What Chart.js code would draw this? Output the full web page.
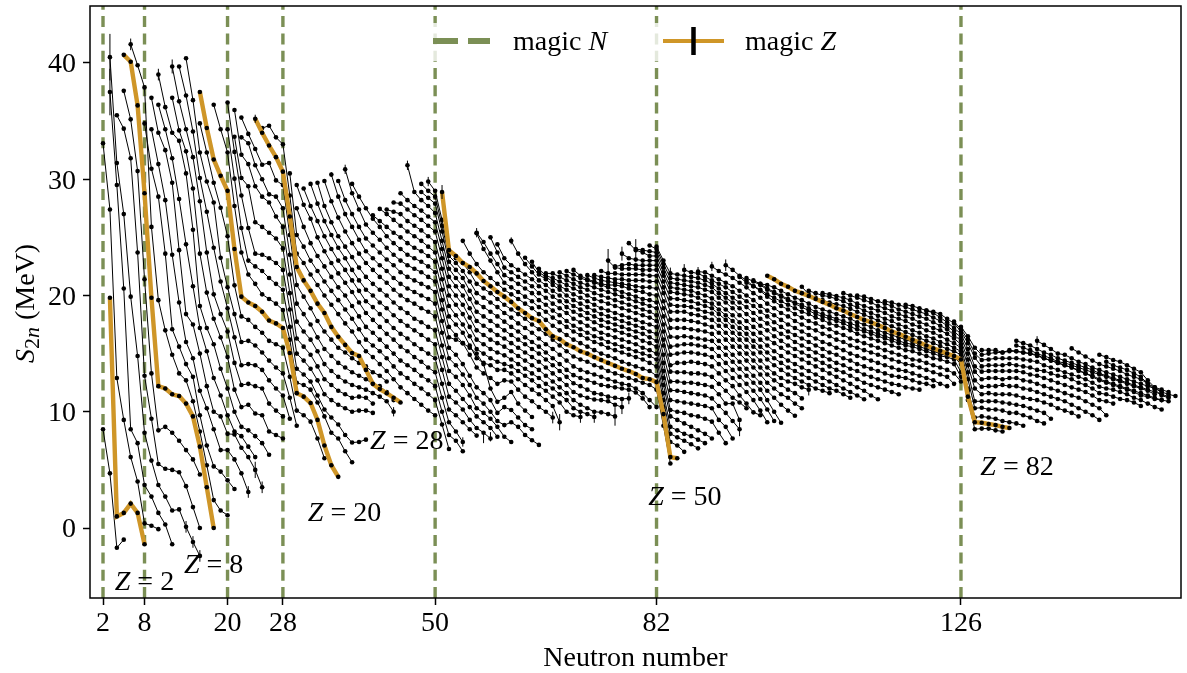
<!DOCTYPE html>
<html>
<head>
<meta charset="utf-8">
<title>S2n chains</title>
<script src="https://cdn.jsdelivr.net/npm/chart.js@4"></script>
<style>
html, body { margin: 0; padding: 0; background: #fff; }
canvas { display: block; }
</style>
</head>
<body>
<canvas id="chart" width="1187" height="673"></canvas>
<script>
const magicN = [2, 8, 20, 28, 50, 82, 126];
const magicZ = [2, 8, 20, 28, 50, 82];
const yTicks = [0, 10, 20, 30, 40];

// first neutron number of each isotopic chain, Z = 1 onwards
const startN = [2,3,2,3,3,4,5,5,6,8,9,9,10,10,12,12,13,14,16,16,18,20,20,21,21,22,22,24,25,29,30,30,31,32,33,34,35,36,37,38,41,42,43,44,45,46,48,48,49,51,54,56,56,58,59,61,63,64,65,66,68,69,70,72,73,74,75,76,77,78,79,81,82,86,88,90,92,94,95,96,97,98,103,104,106,109,111,115,118,121,125,126,129,134,134,137,142,146,147];

// S2n in MeV, one value per neutron number
const z01 = [8.5,4.7,-1.7,-1.0];
const z02 = [19.8,1.0,1.3,2.1,1.3,-1.4];
const z03 = [33.1,27.4,12.9,9.3,6.1,4.0,0.4,0.2,-0.1];
const z04 = [37.5,29.5,20.6,8.5,7.3,3.7,2.7,1.3,0.3,-1.4];
const z05 = [40.5,31.4,27.0,19.9,14.8,8.2,5.8,3.7,2.7,1.5,1.6,0.1,-1.2,-2.4];
const z06 = [35.5,34.35,31.8,23.7,13.1,9.4,5.5,5.1,5.0,4.8,3.6,1.8,0.0];
const z07 = [37.6,35.15,30.7,21.4,13.3,8.4,8.7,8.2,7.5,6.7,5.9,4.6];
const z08 = [40.7,40.1,36.35,28.8,19.8,12.2,12.0,11.5,11.35,10.7,9.6,7.0,3.5,0.0];
const z09 = [41.6,39.8,37.9,25.9,19.6,17.0,14.9,13.3,12.7,10.9,8.3,5.4,2.4,1.5,1.1];
const z10 = [34.8,30.9,28.5,23.6,17.1,15.6,14.1,13.0,9.7,7.1,5.3,4.85,4.1,3.35];
const z11 = [34.3,31.3,28.2,23.5,19.4,16.0,14.6,11.8,10.3,8.5,6.7,6.7,5.9,4.7,3.1];
const z12 = [37.0,34.0,32.5,29.7,23.9,18.4,17.5,15.0,12.2,10.0,9.6,8.1,8.05,6.9,6.1,5.0,3.5];
const z13 = [36.4,34.3,31.8,28.3,24.4,20.8,17.2,15.2,12.9,11.4,9.7,8.3,7.9,7.0,6.1];
const z14 = [39.0,36.2,34.0,33.3,30.5,25.65,19.1,17.2,15.8,13.7,12.0,10.0,8.7,8.4,7.9,7.3,6.3];
const z15 = [37.0,34.2,32.4,29.2,23.6,20.25,18.0,16.4,14.7,11.9,10.4,10.6,9.85,9.7,8.3,8.0,7.7];
const z16 = [39.7,36.7,34.3,31.9,28.1,23.7,20.1,18.4,16.9,14.2,12.3,12.4,12.2,12.0,10.7,10.1,9.6];
const z17 = [39.7,37.2,34.1,30.1,27.2,24.1,21.2,18.9,16.4,14.0,14.1,14.0,13.6,12.7,12.0,11.4,9.4];
const z18 = [40.4,36.8,32.3,29.8,28.0,23.25,20.7,18.4,16.0,16.1,15.7,15.1,14.4,13.8,13.3,11.2,8.8];
const z19 = [34.8,32.3,29.7,27.55,25.1,20.87,18.2,17.9,17.3,16.8,16.1,15.8,15.5,13.0,10.1,9.7,9.15,7.7,6.0];
const z20 = [37.5,34.4,31.7,30.3,29.0,24.0,19.9,19.4,19.1,18.6,17.85,17.6,17.2,15.05,11.6,11.3,10.75,9.3,7.1,5.4,4.4];
const z21 = [36.4,34.3,32.3,27.7,23.7,21.8,21.0,20.1,19.7,19.3,18.75,16.2,12.5,12.3,11.9,10.8,9.6,8.2,7.7,6.6,5.65];
const z22 = [34.3,30.05,25.8,23.0,22.5,22.1,21.5,21.0,20.5,17.3,13.7,13.2,12.6,11.4,10.2,9.5,8.9,8.0,7.35,7.4,7.6];
const z23 = [36.6,32.35,28.6,25.8,23.6,23.5,23.2,22.8,22.2,18.8,15.0,14.4,13.7,12.7,11.5,11.0,10.6,10.3,10.0,10.1,10.1,9.9];
const z24 = [33.65,30.1,29.4,26.3,25.9,25.4,24.9,24.05,20.2,16.3,15.6,14.9,13.9,12.8,12.3,11.8,11.5,11.2,11.3,11.2,10.7];
const z25 = [35.95,32.1,31.3,29.4,28.5,28.0,26.8,25.9,21.8,17.75,16.9,16.2,15.2,14.1,13.5,13.0,12.6,12.3,12.1,11.9,11.6,11.3,10.9,10.0];
const z26 = [33.6,33.1,31.2,30.0,28.7,28.5,27.5,23.5,19.3,18.4,17.5,16.4,15.4,14.8,14.2,13.8,13.4,13.1,12.8,12.4,12.2,11.7,11.0];
const z27 = [35.3,33.9,32.6,31.25,31.4,29.9,29.5,25.2,20.9,19.9,18.9,17.8,16.9,16.2,15.5,15.1,14.6,14.2,13.9,13.4,13.1,12.6];
const z28 = [35.2,34.0,32.9,31.9,30.65,26.8,22.45,21.3,20.4,19.3,18.5,17.3,16.45,15.75,15.05,14.8,13.6,12.4,11.95,11.6,11.2,10.8];
const z29 = [34.4,34.6,33.6,33.0,28.6,23.6,22.8,21.8,20.9,20.0,19.2,18.4,17.6,16.9,16.0,15.2,14.7,14.1,13.5,12.8,12.1,11.6,11.1,10.6,10.1,9.7];
const z30 = [30.5,25.2,24.2,23.0,22.1,21.2,20.4,19.6,18.8,18.0,17.1,16.2,15.7,15.2,14.6,13.9,13.3,12.9,12.4,12.0,11.5,11.0,8.9,6.8];
const z31 = [27.5,25.9,24.5,23.4,22.5,21.6,20.7,20.0,19.1,18.2,17.3,16.8,16.2,15.6,15.0,14.4,14.0,13.6,13.1,12.7,12.2,10.0,8.0,7.5,6.6];
const z32 = [29.5,27.8,26.6,25.0,23.8,22.8,21.9,21.1,20.3,19.4,18.5,17.9,17.3,16.7,16.2,15.6,15.2,14.7,14.3,13.8,13.4,11.2,9.1,8.3,7.4];
const z33 = [29.2,27.7,26.4,25.1,24.0,23.0,22.2,21.3,20.4,19.5,19.0,18.4,17.8,17.2,16.7,16.3,15.8,15.4,15.0,14.6,12.4,10.2,9.7,9.1,8.5,7.95];
const z34 = [29.6,27.9,26.4,25.2,24.1,23.2,22.2,21.3,20.5,20.0,19.4,18.9,18.3,17.8,17.4,17.0,16.6,16.2,15.8,13.6,11.3,10.8,10.2,9.3,8.6,8.2,7.7];
const z35 = [29.7,27.7,26.3,25.1,24.2,23.3,22.4,21.6,21.0,20.5,20.0,19.4,18.9,18.5,18.0,17.7,17.3,17.0,14.7,12.4,11.8,11.1,10.4,9.6,9.1,8.6,7.85];
const z36 = [29.85,28.1,26.7,25.5,24.5,23.6,22.8,22.2,21.6,21.1,20.5,20.0,19.6,19.3,18.9,18.6,18.2,15.7,13.5,13.0,12.3,11.4,10.3,9.9,9.4,8.7,7.85,7.4];
const z37 = [30.4,28.5,27.0,25.9,24.8,23.8,23.2,22.6,22.1,21.5,21.0,20.6,20.3,20.0,19.7,19.3,16.8,14.6,14.0,13.2,12.3,11.2,10.7,10.0,9.2,8.85,9.1,8.7,8.0,7.55,7.15];
const z38 = [29.85,28.2,27.0,25.9,24.9,24.3,23.7,23.1,22.6,22.0,21.6,21.3,21.0,20.7,20.3,17.8,15.5,14.9,14.1,13.1,12.1,11.6,11.0,9.9,10.4,10.15,9.5,8.85,8.5];
const z39 = [30.85,28.8,27.4,26.1,25.4,24.8,24.1,23.5,23.0,22.6,22.3,22.0,21.6,21.2,18.8,16.4,16.2,15.9,15.5,15.0,14.1,12.0,10.85,11.2,11.7,10.7,10.1,9.55];
const z40 = [29.6,28.5,27.5,26.6,25.9,25.1,24.5,24.0,23.5,23.2,22.9,22.5,22.0,19.6,17.3,16.6,15.9,14.9,13.8,13.3,12.9,12.4,12.7,12.6,11.9,11.3,10.9,10.4,10.0,9.5];
const z41 = [26.9,26.4,25.9,25.4,25.0,24.5,24.1,23.8,23.4,22.9,20.5,18.2,17.5,16.8,15.7,14.6,14.2,14.0,13.6,13.6,13.3,12.8,12.3,11.9,11.5,11.0,10.5,9.1];
const z42 = [27.45,27.0,26.5,26.0,25.5,25.1,24.7,24.2,23.7,21.4,19.1,18.3,17.5,16.5,15.4,15.0,14.6,14.3,14.1,13.9,13.5,13.1,12.7,12.2,11.8,11.3,10.8,10.0,9.7,9.55];
const z43 = [27.4,27.2,27.0,26.4,26.0,25.6,25.1,24.6,22.3,20.0,19.2,18.4,17.3,16.2,15.8,15.4,15.1,14.85,14.5,14.1,13.7,13.3,12.9,12.4,12.0,11.5,11.0,10.3,10.0,9.8,9.55];
const z44 = [28.0,27.9,27.4,26.9,26.5,26.0,25.5,23.2,20.8,20.0,19.2,18.1,17.0,16.6,16.2,15.9,15.6,15.2,14.8,14.4,14.0,13.6,13.1,12.6,12.1,11.6,11.0,10.6,10.3,10.0,9.95,9.8,9.6];
const z45 = [28.8,28.2,27.7,27.3,26.8,26.3,24.0,21.6,20.8,20.0,18.9,17.8,17.4,17.0,16.6,16.3,15.9,15.5,15.1,14.7,14.3,13.8,13.3,12.8,12.3,11.7,11.4,11.2,11.05,11.0,10.9,10.6,10.4];
const z46 = [31.2,28.9,28.2,27.7,27.1,24.7,22.3,21.5,20.8,19.7,18.6,18.2,17.8,17.4,17.0,16.6,16.2,15.8,15.4,15.0,14.5,14.0,13.5,13.0,12.45,12.2,11.9,11.6,11.5,11.3,11.2,11.1,11.15];
const z47 = [28.9,28.4,27.9,25.5,22.9,22.2,21.5,20.4,19.4,19.0,18.6,18.2,17.75,17.3,16.9,16.4,16.0,15.6,15.1,14.6,14.1,13.6,13.15,12.9,12.7,12.5,12.3,12.2,12.1,12.0,11.9,11.65,11.15,10.4];
const z48 = [29.6,29.0,28.5,26.0,23.4,22.8,22.1,21.2,20.2,19.8,19.4,19.0,18.5,18.1,17.6,17.2,16.8,16.3,15.8,15.4,14.9,14.4,13.9,13.6,13.4,13.2,13.0,12.8,12.6,12.4,12.3,12.0,11.6,11.0,10.4];
const z49 = [29.8,29.0,26.5,23.7,23.2,22.8,22.0,21.0,20.6,20.2,19.7,19.2,18.8,18.4,18.0,17.5,17.1,16.7,16.2,15.7,15.2,14.75,14.5,14.3,14.0,13.8,13.5,13.3,13.1,12.9,12.7,12.5,12.3,11.9,8.8,5.55];
const z50 = [28.9,23.9,23.4,22.8,22.45,21.9,21.25,20.8,20.3,19.9,19.45,18.9,18.5,18.05,17.8,17.1,16.5,16.25,15.8,15.55,15.2,15.0,14.7,14.45,14.2,13.95,13.7,13.5,13.25,12.9,12.8,12.55,9.8,6.1,6.0];
const z51 = [24.7,23.6,22.7,22.0,21.5,21.0,20.5,20.1,19.7,19.3,18.9,18.4,17.9,17.4,17.0,16.6,16.2,15.9,15.6,15.3,15.0,14.8,14.6,14.3,14.1,13.9,13.7,13.5,13.1,10.4,7.4,7.1,6.55];
const z52 = [25.35,24.0,23.0,22.0,21.1,20.7,20.3,19.9,19.5,19.0,18.6,18.1,17.7,17.3,16.9,16.6,16.3,16.0,15.8,15.5,15.3,15.1,14.9,14.7,14.5,14.2,13.9,11.0,8.1,7.8,7.5,7.2,6.85];
const z53 = [25.4,24.6,23.6,22.7,21.75,21.4,21.0,20.6,20.2,19.6,19.2,18.7,18.3,17.8,17.4,17.1,16.8,16.5,16.3,16.0,15.8,15.6,15.4,15.2,15.0,14.8,14.5,11.6,8.7,8.4,8.1,7.9,7.6,7.3];
const z54 = [25.0,23.7,22.4,22.0,21.6,21.2,20.8,20.2,19.8,19.3,18.9,18.5,18.0,17.7,17.4,17.1,16.8,16.6,16.4,16.2,16.0,15.8,15.5,15.3,15.0,12.3,9.6,9.3,9.0,8.7,8.4,8.1,7.7];
const z55 = [24.4,23.2,22.6,22.2,21.8,21.4,20.8,20.4,19.9,19.5,19.0,18.6,18.3,18.0,17.7,17.4,17.2,17.0,16.8,16.6,16.4,16.1,15.9,15.6,12.9,10.15,10.0,9.9,9.7,9.6,9.4,9.15,8.2,7.3];
const z56 = [24.7,23.6,22.7,22.0,21.3,20.9,20.4,20.0,19.5,19.1,18.8,18.5,18.2,17.9,17.7,17.5,17.3,17.1,16.9,16.7,16.4,16.1,13.5,11.0,10.9,10.8,10.7,10.6,10.5,10.3,9.3,8.7,7.7];
const z57 = [23.25,22.5,21.8,21.4,20.9,20.5,20.0,19.6,19.3,19.0,18.7,18.4,18.2,18.0,17.8,17.6,17.4,17.2,16.9,16.7,14.2,11.85,11.8,11.7,11.6,11.5,11.4,11.15,10.5,9.9,9.2,8.5];
const z58 = [22.9,22.0,21.6,21.2,20.8,20.5,20.1,19.8,19.5,19.2,18.9,18.7,18.5,18.3,18.1,17.9,17.7,17.5,17.3,14.9,12.6,12.6,12.5,12.5,12.4,12.3,12.15,11.5,10.7,10.7,9.3];
const z59 = [22.3,21.7,21.5,21.2,20.9,20.6,20.3,20.0,19.7,19.5,19.3,19.1,18.9,18.7,18.5,18.3,18.1,17.8,15.7,13.45,13.4,13.4,13.3,13.3,13.2,13.0,12.4,11.8,11.2,10.8,10.3];
const z60 = [21.9,21.9,21.6,21.3,21.0,20.7,20.5,20.2,20.0,19.8,19.6,19.4,19.2,19.0,18.8,18.6,18.3,16.2,14.0,14.2,14.2,14.3,14.2,14.1,13.9,13.3,12.7,12.2,11.4,10.7,9.95,9.7];
const z61 = [22.0,21.7,21.4,21.1,20.9,20.7,20.5,20.3,20.1,19.9,19.7,19.5,19.3,19.1,18.9,16.9,14.9,15.0,15.1,15.1,15.0,14.9,14.7,14.1,13.5,12.9,12.3,11.7,11.0,10.1,9.1];
const z62 = [22.1,21.8,21.5,21.3,21.1,20.9,20.7,20.5,20.3,20.1,19.9,19.7,19.6,19.4,17.5,15.6,15.7,15.8,15.8,15.7,15.6,15.4,14.8,14.2,13.6,13.0,12.4,11.8,11.1,10.2,9.2];
const z63 = [22.2,21.7,21.4,21.2,21.0,20.9,20.9,20.8,20.6,20.4,20.3,20.1,20.0,18.2,16.45,16.4,16.5,16.4,16.3,16.2,16.1,15.5,14.9,14.3,13.7,13.1,12.5,11.9,11.0,10.0,9.05];
const z64 = [21.75,21.5,21.3,21.2,21.1,21.0,20.9,20.8,20.7,20.7,20.6,18.9,17.2,17.2,17.2,17.1,17.0,16.9,16.7,16.1,15.5,14.9,14.3,13.7,13.1,12.5,11.8,11.2,10.6,10.1,9.65];
const z65 = [21.75,21.6,21.5,21.4,21.4,21.3,21.3,21.3,21.2,21.2,19.5,17.9,17.9,17.9,17.8,17.7,17.5,17.3,16.8,16.2,15.6,15.0,14.4,13.8,13.2,12.5,12.0,11.5,11.2,10.7,10.3];
const z66 = [22.1,21.9,21.9,21.8,21.8,21.8,21.8,21.7,21.7,20.2,18.6,18.6,18.6,18.4,18.3,18.1,17.9,17.4,16.8,16.2,15.6,15.0,14.4,13.8,13.2,12.7,12.3,11.9,11.6,11.15];
const z67 = [23.0,22.4,22.3,22.3,22.3,22.2,22.2,22.2,20.7,19.2,19.1,19.1,19.0,18.8,18.6,18.45,17.9,17.4,16.8,16.2,15.6,15.0,14.4,13.8,13.3,12.9,12.6,12.4,12.1,11.9];
const z68 = [22.5,22.6,22.7,22.6,22.6,22.6,22.6,21.2,19.75,19.7,19.6,19.5,19.3,19.1,18.9,18.4,17.9,17.3,16.7,16.2,15.6,15.1,14.5,14.0,13.6,13.2,12.9,12.6,12.3,12.0,11.8,11.6];
const z69 = [23.6,23.2,23.1,23.0,23.0,23.0,21.7,20.3,20.2,20.1,20.0,19.8,19.5,19.3,18.8,18.3,17.8,17.2,16.7,16.1,15.6,15.1,14.6,14.2,13.8,13.5,13.2,12.9,12.6,12.3,12.0,11.8,11.5,11.2];
const z70 = [24.5,23.9,23.7,23.4,23.4,22.0,20.7,20.6,20.5,20.4,20.2,20.0,19.75,19.3,18.8,18.3,17.7,17.2,16.7,16.2,15.7,15.2,14.8,14.4,14.1,13.8,13.5,13.2,12.9,12.6,12.3,12.0,11.7,11.4,11.07];
const z71 = [24.0,23.9,23.8,23.7,22.4,21.1,21.0,20.9,20.8,20.7,20.5,20.3,19.8,19.4,18.9,18.3,17.8,17.3,16.8,16.3,15.9,15.5,15.1,14.8,14.5,14.2,13.9,13.6,13.3,13.0,12.7,12.4,12.1,11.8,11.4,11.07];
const z72 = [24.3,24.0,22.7,21.5,21.4,21.3,21.2,21.1,20.9,20.7,20.2,19.8,19.4,18.9,18.4,17.9,17.4,17.0,16.5,16.1,15.7,15.4,15.1,14.8,14.5,14.2,13.9,13.6,13.4,13.1,12.8,12.5,12.3,12.1,11.9,11.7,11.5];
const z73 = [24.2,23.0,21.9,21.8,21.7,21.6,21.5,21.3,21.0,20.6,20.2,19.8,19.4,19.0,18.5,18.0,17.6,17.1,16.7,16.4,16.0,15.7,15.4,15.1,14.8,14.5,14.2,14.0,13.7,13.5,13.2,13.0,12.8,12.6,12.4,12.3,12.1,12.0,11.9];
const z74 = [22.2,22.0,21.9,21.6,21.3,21.0,20.7,20.3,19.9,19.5,19.1,18.6,18.2,17.7,17.3,16.9,16.6,16.3,16.0,15.7,15.4,15.1,14.9,14.6,14.4,14.1,13.9,13.7,13.5,13.3,13.1,13.0,12.9,12.7,12.5,12.4,12.2];
const z75 = [22.05,22.0,21.7,21.4,21.1,20.8,20.4,20.0,19.6,19.1,18.7,18.3,17.9,17.5,17.2,16.9,16.6,16.3,16.0,15.8,15.5,15.3,15.0,14.8,14.6,14.4,14.2,14.0,13.8,13.6,13.5,13.3,13.1,12.9,12.7,12.4,12.2];
const z76 = [22.5,22.1,21.8,21.5,21.1,20.7,20.2,19.8,19.3,18.9,18.5,18.2,17.8,17.5,17.2,17.0,16.7,16.5,16.2,16.0,15.7,15.5,15.3,15.1,14.9,14.7,14.5,14.3,14.1,14.0,13.8,13.6,13.4,13.2,13.0,12.4];
const z77 = [22.6,22.2,21.7,21.3,20.8,20.4,19.9,19.5,19.1,18.8,18.4,18.1,17.8,17.6,17.3,17.1,16.8,16.6,16.3,16.1,15.9,15.7,15.5,15.3,15.1,14.9,14.7,14.5,14.4,14.2,14.0,13.8,13.6,13.3,12.6];
const z78 = [21.6,21.1,20.8,20.5,20.1,19.8,19.5,19.2,18.9,18.6,18.4,18.1,17.9,17.6,17.4,17.2,17.0,16.7,16.5,16.3,16.1,15.9,15.7,15.5,15.3,15.2,15.0,14.8,14.6,14.5,14.3,14.1,13.0];
const z79 = [21.5,21.2,20.9,20.5,20.2,19.9,19.6,19.3,19.0,18.7,18.4,18.2,18.0,17.8,17.6,17.3,17.1,16.9,16.7,16.5,16.3,16.1,15.9,15.7,15.6,15.4,15.2,15.0,14.8,14.7,14.5,13.4];
const z80 = [21.3,21.0,20.6,20.3,20.0,19.7,19.4,19.2,18.9,18.6,18.4,18.2,18.0,17.8,17.6,17.4,17.1,16.9,16.7,16.5,16.3,16.1,15.9,15.8,15.6,15.4,15.2,15.0,14.8,14.7,14.1,11.8];
const z81 = [21.0,20.9,20.7,20.4,20.1,19.8,19.6,19.3,19.0,18.8,18.6,18.4,18.2,18.0,17.7,17.5,17.3,17.0,16.8,16.6,16.4,16.2,16.0,15.8,15.6,15.4,15.2,15.0,14.8,14.3,11.0,8.5,8.55,8.55,8.4,8.3];
const z82 = [21.7,21.4,21.0,20.75,20.4,20.2,19.95,19.7,19.45,19.2,18.9,18.7,18.4,18.15,17.9,17.7,17.45,17.2,16.9,16.7,16.45,16.2,15.95,15.7,15.45,15.25,15.0,14.8,14.5,11.3,9.1,9.05,8.95,8.85,8.7,8.6];
const z83 = [20.75,20.1,19.8,19.6,19.4,19.25,19.1,18.85,18.6,18.35,18.1,17.85,17.6,17.35,17.1,16.85,16.6,16.35,16.1,15.9,15.65,15.4,15.2,14.9,12.0,9.5,9.6,9.5,9.4,9.2,9.1,9.0,8.8];
const z84 = [20.4,20.2,20.0,19.9,19.7,19.5,19.2,19.0,18.7,18.5,18.25,18.0,17.8,17.5,17.3,17.0,16.8,16.5,16.3,16.0,15.8,15.5,15.2,12.8,10.3,10.35,10.2,10.2,10.1,9.9,9.9,9.7,9.5,9.2,9.0];
const z85 = [20.2,20.1,19.95,19.8,19.6,19.3,19.1,18.9,18.7,18.5,18.2,18.0,17.8,17.5,17.3,17.0,16.8,16.5,16.2,15.9,15.5,13.4,10.9,10.9,10.9,10.9,10.8,10.7,10.6,10.5,10.3,10.1,9.9,9.4];
const z86 = [20.2,20.0,19.8,19.6,19.4,19.1,18.9,18.7,18.4,18.2,18.0,17.7,17.5,17.2,17.0,16.7,16.3,15.8,14.0,12.0,11.5,11.6,11.5,11.5,11.5,11.4,11.2,11.1,11.0,10.8,10.6,10.3,10.1,9.9,9.6];
const z87 = [20.0,19.9,19.7,19.5,19.3,19.1,18.8,18.6,18.4,18.2,18.0,17.7,17.4,17.1,16.6,16.1,14.5,12.7,12.15,12.2,12.2,12.3,12.2,12.2,12.0,11.9,11.7,11.5,11.3,11.1,10.9,10.6,10.3,10.0,9.7,9.3];
const z88 = [19.5,19.4,19.2,19.0,18.8,18.6,18.4,18.1,17.8,17.4,16.9,16.4,15.0,13.45,12.8,12.9,12.9,12.8,12.9,12.9,12.7,12.6,12.4,12.2,12.0,11.8,11.6,11.4,11.2,10.9,10.6,10.3,9.7];
const z89 = [19.2,19.1,18.9,18.7,18.5,18.1,17.7,17.2,16.7,15.4,13.9,13.45,13.5,13.5,13.5,13.5,13.5,13.4,13.2,13.1,12.9,12.7,12.5,12.3,12.1,11.9,11.7,11.4,11.0,10.9,10.7];
const z90 = [18.7,18.6,18.4,18.0,17.6,16.9,15.9,14.65,13.9,14.0,14.0,14.0,14.1,14.0,13.9,13.8,13.6,13.5,13.3,13.1,13.0,12.8,12.5,12.3,12.0,11.6,11.5,11.3,11.1,11.0,10.8,10.5];
const z91 = [17.75,17.1,16.2,15.0,14.45,14.5,14.6,14.6,14.6,14.6,14.5,14.4,14.3,14.0,13.8,13.6,13.4,13.2,13.0,12.8,12.5,12.15,12.0,11.9,11.7,11.5,11.2,11.0,10.7,10.4,10.2];
const z92 = [17.3,16.5,15.5,14.9,15.0,15.1,15.1,15.2,15.2,15.1,15.0,14.8,14.6,14.4,14.2,14.0,13.8,13.5,13.3,13.0,12.7,12.5,12.3,12.1,11.9,11.7,11.4,11.3,11.1,11.0,10.9];
const z93 = [15.3,15.3,15.3,15.1,15.3,15.2,15.1,15.0,14.9,14.6,14.4,14.2,14.0,13.8,13.6,13.3,13.1,12.8,12.6,12.4,12.2,12.0,11.8,11.6,11.4,11.2,11.0];
const z94 = [16.1,15.9,15.7,15.4,15.1,14.9,14.6,14.4,14.2,14.0,13.8,13.6,13.3,13.1,12.9,12.7,12.5,12.3,12.1,11.9,11.7,11.5,11.3];
const z95 = [15.7,15.5,15.3,15.0,14.8,14.6,14.3,14.2,14.0,13.8,13.6,13.4,13.2,13.0,12.8,12.6,12.4,12.2,12.0,11.8,11.5];
const z96 = [16.1,15.75,15.4,15.0,14.9,14.6,14.3,14.1,13.8,13.6,13.4,13.2,13.0,12.8,12.6,12.4,12.2,12.0,11.7];
const z97 = [15.45,15.1,14.75,14.4,14.1,13.9,13.7,13.5,13.2,13.0,12.8,12.4,12.1,11.9,11.7];
const z98 = [14.9,14.7,14.45,14.3,14.0,13.7,13.4,12.7,12.1,11.7,11.5,11.35];
const z99 = [14.3,14.0,13.8,13.6,13.3,13.0,12.4,11.9,11.4,11.2];

// measurement errors that are big enough to see: neutron number, S2n, half width
const errN = [3,3,6,10,12,24,35,37,46,49,51,14,15,16,23,24,25,44,54,56,57,58,61,67,68,71,73,75,76,77,77,78,79,84,86,88,90,92,94,104,137];
const errS = [40.5,37.5,41.6,39,39.7,35.2,30.4,30.85,31.2,29.8,28.9,0.1,-1.2,-2.4,3.1,5,3.5,10,7.4,25.4,7.7,7.85,24.7,9.5,9.1,9.55,9.55,23,9.6,10.4,23.6,11.15,23.85,21.9,22.2,22.05,22.5,22.6,8.5,11.9,16.1];
const errW = [2,2,0.5,0.5,0.6,0.35,0.2,0.4,0.4,0.4,0.6,0.5,0.5,0.5,0.5,0.7,0.5,0.4,0.4,0.4,0.4,0.4,0.3,0.5,0.7,0.5,0.5,1,0.8,0.6,0.6,0.5,1,0.5,0.5,0.4,0.4,0.5,0.6,0.5,0.4];

const labelZ = ['2', '8', '20', '28', '50', '82'];
const labelN = [3.7, 13.7, 31.6, 40.6, 80.8, 128.8];
const labelS = [-5.3, -3.9, 0.6, 6.8, 2.0, 4.6];

const chains = [z01,z02,z03,z04,z05,z06,z07,z08,z09,z10,z11,z12,z13,z14,z15,z16,z17,z18,z19,z20,z21,z22,z23,z24,z25,z26,z27,z28,z29,z30,z31,z32,z33,z34,z35,z36,z37,z38,z39,z40,z41,z42,z43,z44,z45,z46,z47,z48,z49,z50,z51,z52,z53,z54,z55,z56,z57,z58,z59,z60,z61,z62,z63,z64,z65,z66,z67,z68,z69,z70,z71,z72,z73,z74,z75,z76,z77,z78,z79,z80,z81,z82,z83,z84,z85,z86,z87,z88,z89,z90,z91,z92,z93,z94,z95,z96,z97,z98,z99];

const xMin = 0.12, xMax = 157.8, yMin = -6.02, yMax = 44.9;
const green = '#7b8f55';
const orange = '#cf9628';
const serif = '"Liberation Serif", serif';

const datasets = [];

magicN.forEach((n) => {
	datasets.push({
		data: [{ x: n, y: yMin }, { x: n, y: yMax }],
		borderColor: green, borderWidth: 3.4, borderDash: [11, 6.3],
		pointRadius: 0, showLine: true, order: 3,
	});
});

chains.forEach((values, i) => {
	const z = i + 1;
	const isMagic = magicZ.includes(z);
	datasets.push({
		data: values.map((y, k) => ({ x: startN[i] + k, y })),
		borderColor: isMagic ? orange : '#000',
		borderWidth: isMagic ? 4.4 : 1,
		backgroundColor: '#000',
		pointRadius: 2.3, pointBorderWidth: 0,
		showLine: true, order: isMagic ? 1 : 2,
	});
});

const errData = [];
errN.forEach((n, i) => {
	errData.push({ x: n, y: errS[i] - errW[i] }, { x: n, y: errS[i] + errW[i] }, { x: n, y: null });
});
datasets.push({
	data: errData, borderColor: '#000', borderWidth: 1,
	pointRadius: 0, showLine: true, spanGaps: false, order: 0,
});

const decorations = {
	id: 'decorations',
	afterDatasetsDraw(chart) {
		const { ctx, chartArea: a, scales: { x, y } } = chart;
		ctx.save();
		ctx.fillStyle = '#000';
		ctx.textBaseline = 'alphabetic';

		// Z = n notes
		labelZ.forEach((t, i) => {
			const px = x.getPixelForValue(labelN[i]);
			const py = y.getPixelForValue(labelS[i]);
			ctx.font = `italic 28px ${serif}`;
			ctx.textAlign = 'left';
			ctx.fillText('Z', px, py);
			const w = ctx.measureText('Z').width;
			ctx.font = `28px ${serif}`;
			ctx.fillText(` = ${t}`, px + w, py);
		});

		// legend
		ctx.fillStyle = 'rgba(255,255,255,0.8)';
		ctx.fillRect(424, 23, 422, 38);
		ctx.strokeStyle = green;
		ctx.lineWidth = 6;
		ctx.beginPath();
		ctx.moveTo(433, 41); ctx.lineTo(458, 41);
		ctx.moveTo(468, 41); ctx.lineTo(490, 41);
		ctx.stroke();
		ctx.strokeStyle = orange;
		ctx.lineWidth = 4;
		ctx.beginPath();
		ctx.moveTo(663, 41); ctx.lineTo(724, 41);
		ctx.stroke();
		ctx.strokeStyle = '#000';
		ctx.lineWidth = 4.5;
		ctx.beginPath();
		ctx.moveTo(693.5, 27); ctx.lineTo(693.5, 55);
		ctx.stroke();
		ctx.fillStyle = '#000';
		[['N', 513], ['Z', 745]].forEach(([sym, lx]) => {
			ctx.font = `28px ${serif}`;
			ctx.fillText('magic ', lx, 50);
			const w = ctx.measureText('magic ').width;
			ctx.font = `italic 28px ${serif}`;
			ctx.fillText(sym, lx + w, 50);
		});

		// y axis title, S with a 2n subscript
		ctx.translate(34, 363);
		ctx.rotate(-Math.PI / 2);
		ctx.font = `italic 28px ${serif}`;
		ctx.fillText('S', 0, 0);
		let cx = ctx.measureText('S').width;
		ctx.font = `22px ${serif}`;
		ctx.fillText('2', cx, 5);
		cx += ctx.measureText('2').width;
		ctx.font = `italic 22px ${serif}`;
		ctx.fillText('n', cx, 5);
		cx += ctx.measureText('n').width;
		ctx.font = `28px ${serif}`;
		ctx.fillText(' (MeV)', cx, 0);
		ctx.restore();

		// frame
		ctx.save();
		ctx.strokeStyle = '#000';
		ctx.lineWidth = 1.5;
		ctx.strokeRect(a.left, a.top, a.right - a.left, a.bottom - a.top);
		ctx.restore();
	},
};

new Chart(document.getElementById('chart'), {
	type: 'scatter',
	data: { datasets },
	plugins: [decorations],
	options: {
		responsive: false,
		animation: false,
		layout: { padding: { top: 6, right: 6 } },
		plugins: { legend: { display: false }, tooltip: { enabled: false } },
		scales: {
			x: {
				type: 'linear', min: xMin, max: xMax,
				afterBuildTicks(scale) { scale.ticks = magicN.map((value) => ({ value })); },
				afterFit(scale) { scale.height = 75; scale.paddingLeft = 0; scale.paddingRight = 0; },
				grid: { drawOnChartArea: false, tickLength: 7, tickWidth: 1.5, tickColor: '#000' },
				border: { display: false },
				ticks: { autoSkip: false, maxRotation: 0, color: '#000', padding: 2, font: { family: serif, size: 28 } },
				title: { display: true, text: 'Neutron number', color: '#000', padding: { top: 0, bottom: -2 }, font: { family: serif, size: 28 } },
			},
			y: {
				type: 'linear', min: yMin, max: yMax,
				afterBuildTicks(scale) { scale.ticks = yTicks.map((value) => ({ value })); },
				afterFit(scale) { scale.width = 90; scale.paddingTop = 0; scale.paddingBottom = 0; },
				grid: { drawOnChartArea: false, tickLength: 7, tickWidth: 1.5, tickColor: '#000' },
				border: { display: false },
				ticks: { color: '#000', padding: 7, labelOffset: 2, font: { family: serif, size: 28 } },
			},
		},
	},
});
</script>
</body>
</html>
